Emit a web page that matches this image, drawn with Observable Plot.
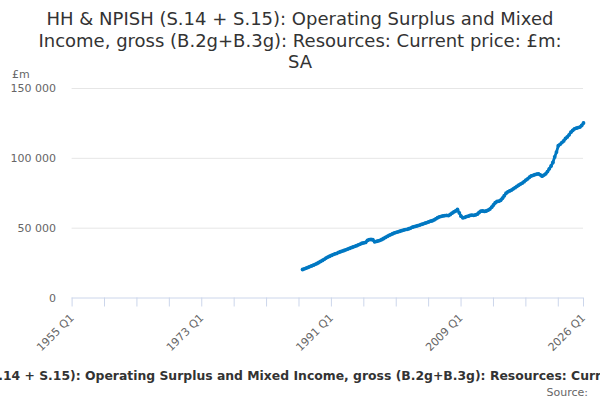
<!DOCTYPE html>
<html>
<head>
<meta charset="utf-8">
<script src="https://cdn.jsdelivr.net/npm/d3@7"></script>
<script src="https://cdn.jsdelivr.net/npm/@observablehq/plot@0.6"></script>
<style>
  html, body { margin: 0; padding: 0; background: #fff; }
  #wrap { position: relative; width: 600px; height: 400px; overflow: hidden; font-family: "DejaVu Sans", sans-serif; }
  #title { position: absolute; top: 8px; left: 0; width: 600px; text-align: center; font-size: 18px; line-height: 21.5px; color: #333; }
  #chart { position: absolute; top: 0; left: 0; }
  #unit { position: absolute; left: 12px; top: 68px; font-size: 11px; color: #666; }
  #caption { position: absolute; top: 368px; left: 309px; transform: translateX(-50%); white-space: nowrap; font-size: 12.4px; font-weight: bold; color: #333; }
  #source { position: absolute; top: 386px; right: 12px; font-size: 11px; color: #666; }
</style>
</head>
<body>
<div id="wrap">
  <div id="title">HH &amp; NPISH (S.14 + S.15): Operating Surplus and Mixed<br>Income, gross (B.2g+B.3g): Resources: Current price: £m:<br>SA</div>
  <div id="chart"></div>
  <div id="unit">£m</div>
  <div id="caption">HH &amp; NPISH (S.14 + S.15): Operating Surplus and Mixed Income, gross (B.2g+B.3g): Resources: Current price: £m: SA</div>
  <div id="source">Source:</div>
</div>
<script>
const firstYear = 1987;
const values = [
  20400, 20900, 21400, 21900,
  22500, 23000, 23500, 24100,
  24700, 25400, 26200, 26900,
  27700, 28600, 29300, 29900,
  30500, 31100, 31600, 32000,
  32600, 33100, 33600, 34000,
  34500, 35000, 35500, 36000,
  36500, 37000, 37500, 38100,
  38600, 39200, 39500, 39800,
  41200, 41800, 41900, 41700,
  40200, 40500, 40900, 41300,
  41900, 42600, 43400, 44100,
  44800, 45400, 46000, 46600,
  47000, 47400, 47800, 48200,
  48600, 49000, 49200, 49600,
  50100, 50700, 51100, 51400,
  51800, 52200, 52700, 53100,
  53600, 54000, 54500, 55000,
  55300, 55900, 56700, 57500,
  58100, 58500, 58800, 59000,
  59100, 59000, 59800, 60700,
  61600, 62300, 63400, 61000,
  58600, 57400, 57700, 58300,
  58600, 59100, 59400, 59200,
  59500, 60000, 61200, 62200,
  62300, 62000, 62300, 62900,
  63700, 65000, 66600, 68200,
  69100, 69300, 70000, 71500,
  73200, 75000, 76000, 76700,
  77300, 78200, 79000, 79900,
  80800, 81600, 82300, 83300,
  84400, 85300, 86500, 87400,
  87800, 88300, 88700, 88900,
  88200, 87200, 88000, 88900,
  90500, 92500, 94500, 97000,
  101000, 104500, 109000, 110000,
  111300, 112500, 114200, 115300,
  116800, 118700, 120000, 121100,
  121600, 122000, 122400, 123500,
  125300
];
const xTicks = [1955, 1959.5, 1964, 1968.5, 1973, 1977.5, 1982, 1986.5, 1991, 1995.5, 2000, 2004.5, 2009, 2013.5, 2018, 2022.5, 2026];
const xLabelTicks = [1955, 1973, 1991, 2009, 2026];
const xLabels = ["1955 Q1", "1973 Q1", "1991 Q1", "2009 Q1", "2026 Q1"];
const yTicks = [0, 50000, 100000, 150000];

const data = values.map((v, i) => ({
  t: firstYear + i / 4,
  period: `${firstYear + Math.floor(i / 4)} Q${(i % 4) + 1}`,
  value: v
}));

const fmt = d => d3.format(",")(d).replace(/,/g, " ");

const chart = Plot.plot({
  width: 600,
  height: 360,
  marginLeft: 71.6,
  marginRight: 17,
  marginTop: 88,
  marginBottom: 62.5,
  style: { fontFamily: "DejaVu Sans, sans-serif", fontSize: "11px", background: "transparent" },
  x: { type: "linear", domain: [1955, 2026] },
  y: { domain: [0, 150000] },
  marks: [
    Plot.gridY(yTicks.slice(1), { stroke: "#e6e6e6", strokeOpacity: 1, strokeWidth: 1 }),
    Plot.ruleY([0], { stroke: "#ccd6eb", strokeWidth: 1 }),
    Plot.axisX({ ticks: xTicks, tickSize: 9, tickFormat: () => "", stroke: "#ccd6eb", strokeOpacity: 1, label: null }),
    Plot.axisX({ ticks: xLabelTicks, tickSize: 0, tickPadding: 18, tickRotate: -45, tickFormat: d => xLabels[xLabelTicks.indexOf(d)], fill: "#666", fontSize: 11, label: null }),
    Plot.axisY({ ticks: yTicks, tickSize: 0, tickPadding: 16, tickFormat: fmt, fill: "#666", fontSize: 11, label: null }),
    Plot.line(data, { x: "t", y: "value", stroke: "#0078c2", strokeWidth: 2.8 }),
    Plot.dot(data, { x: "t", y: "value", fill: "#0078c2", r: 1.9, title: d => `${d.period}: ${d.value}` })
  ]
});
document.getElementById("chart").appendChild(chart);
</script>
</body>
</html>
